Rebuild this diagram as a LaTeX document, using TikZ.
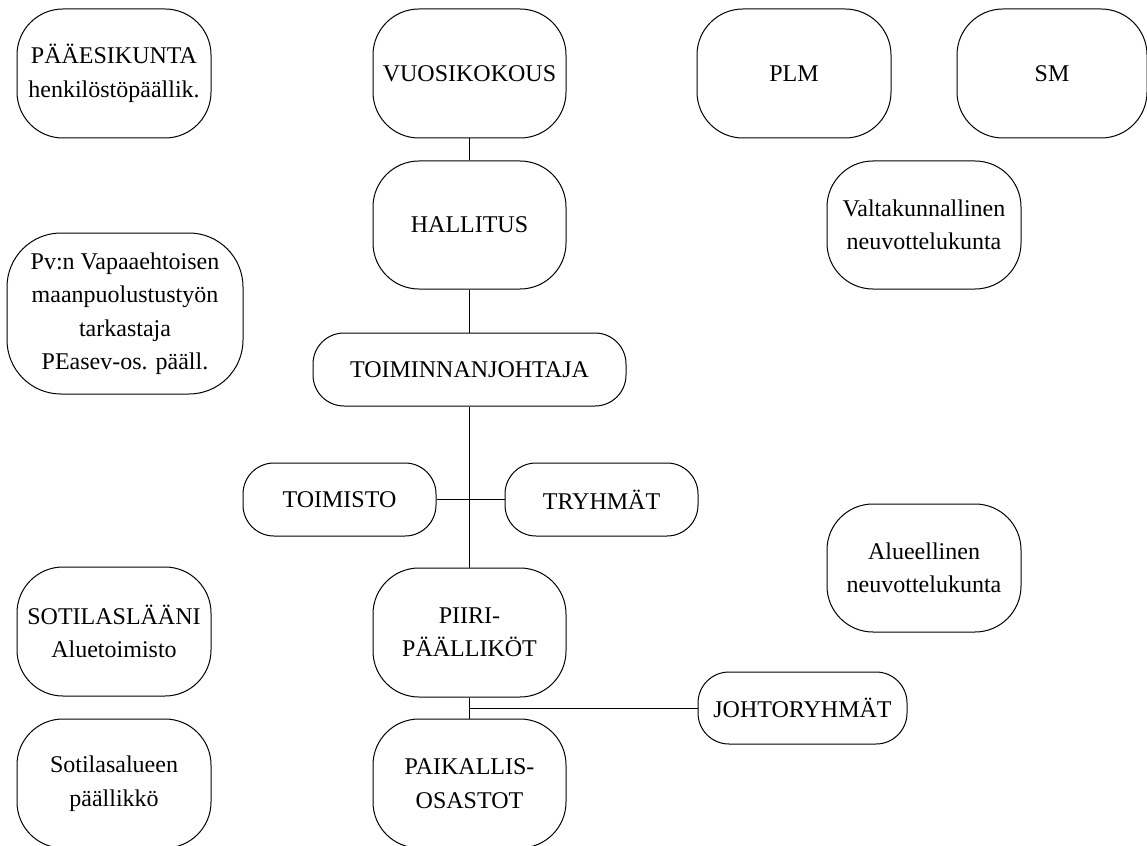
\documentclass[tikz,border=0pt]{standalone}
\usepackage{fontspec}
\setmainfont{Liberation Serif}
\tikzset{
  box/.style={draw, line width=1pt, rounded corners=#1, inner sep=0pt, align=center,
    font={\fontsize{24}{33.5}\selectfont}},
  box/.default=46pt,
  link/.style={draw, line width=1pt}
}
\begin{document}
\begin{tikzpicture}[x=1pt,y=-1pt]
\useasboundingbox (0,0) rectangle (1147,845);
\clip (0,0) rectangle (1147,845);
\node[box, minimum width=194pt, minimum height=129pt] (paa) at (114,73.5) {PÄÄESIKUNTA\\henkilöstöpäällik.};
\node[box, minimum width=193pt, minimum height=129pt] (vuosi) at (469.5,73.5) {VUOSIKOKOUS};
\node[box, minimum width=194pt, minimum height=129pt] (plm) at (794,73.5) {PLM};
\node[box, minimum width=190pt, minimum height=129pt] (sm) at (1052,73.5) {SM};
\node[box, minimum width=193pt, minimum height=128pt] (hall) at (469.5,225) {HALLITUS};
\node[box, minimum width=194pt, minimum height=128pt] (valt) at (924,225) {Valtakunnallinen\\neuvottelukunta};
\node[box=54pt, minimum width=236pt, minimum height=161pt] (pv) at (125,313.5) {Pv:n Vapaaehtoisen\\maanpuolustustyön\\tarkastaja\\PEasev-os. pääll.};
\node[box=31pt, minimum width=313pt, minimum height=73pt] (tj) at (469.5,369.5) {TOIMINNANJOHTAJA};
\node[box=31pt, minimum width=193pt, minimum height=73pt] (toim) at (339.5,499.5) {TOIMISTO};
\node[box=31pt, minimum width=193pt, minimum height=73pt] (try) at (601.5,499.5) {TRYHMÄT};
\node[box, minimum width=194pt, minimum height=128pt] (alue) at (924,568) {Alueellinen\\neuvottelukunta};
\node[box, minimum width=194pt, minimum height=129pt] (sot) at (114,631.5) {SOTILASLÄÄNI\\Aluetoimisto};
\node[box, minimum width=193pt, minimum height=129pt] (piiri) at (469.5,632.5) {PIIRI-\\PÄÄLLIKÖT};
\node[box=31pt, minimum width=209pt, minimum height=72pt] (johto) at (802.5,708) {JOHTORYHMÄT};
\node[box, minimum width=194pt, minimum height=129pt] (sota) at (114,783.5) {Sotilasalueen\\päällikkö};
\node[box, minimum width=193pt, minimum height=129pt] (paik) at (469.5,783.5) {PAIKALLIS-\\OSASTOT};
\coordinate (j) at (piiri.south |- johto.west);
\path[link] (vuosi.south) -- (hall.north);
\path[link] (hall.south) -- (tj.north);
\path[link] (tj.south) -- (piiri.north);
\path[link] (toim.east) -- (try.west);
\path[link] (piiri.south) -- (paik.north);
\path[link] (j) -- (johto.west);
\end{tikzpicture}
\end{document}
